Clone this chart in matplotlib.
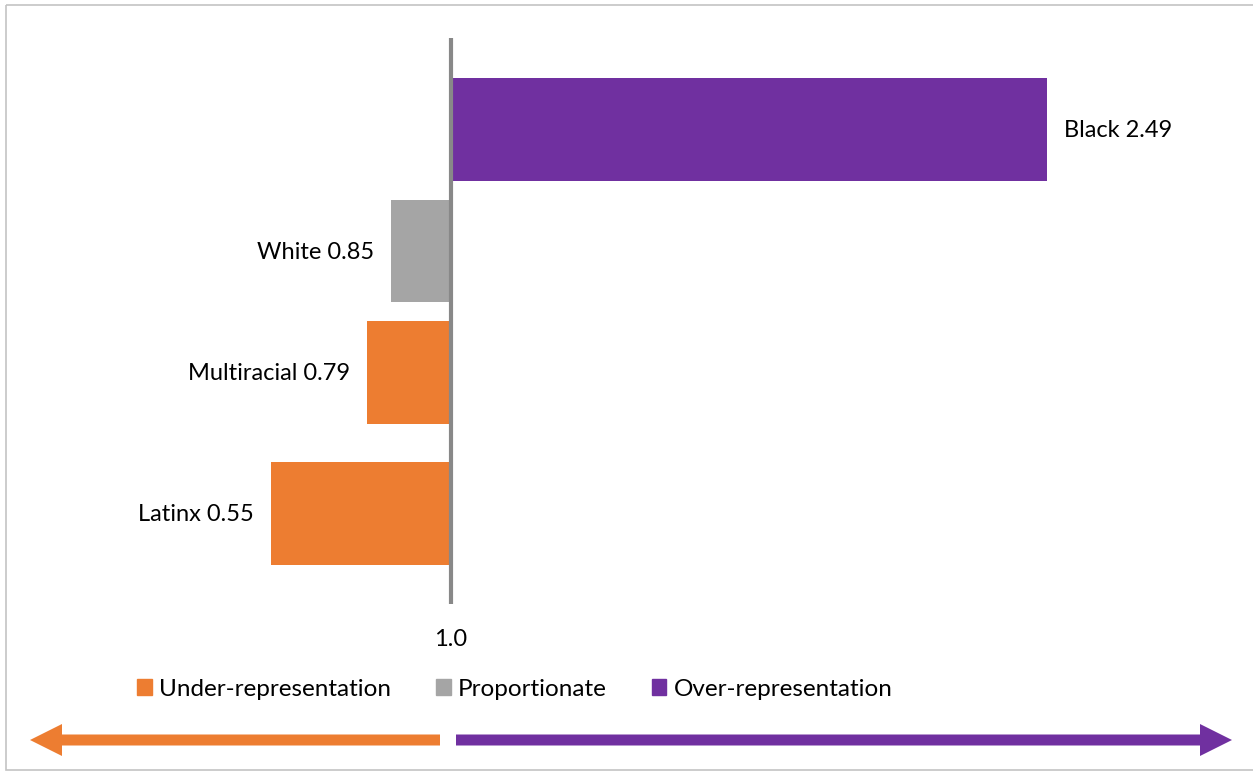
"""Representation index by race, bars diverging from 1.0."""

import matplotlib

matplotlib.use("Agg")

import matplotlib.pyplot as plt
from matplotlib.patches import FancyArrow, Patch, Rectangle

plt.rcParams["font.family"] = ["Lato", "DejaVu Sans"]

groups = ["Black", "White", "Multiracial", "Latinx"]
ratios = [2.49, 0.85, 0.79, 0.55]
kinds = ["over", "prop", "under", "under"]
baseline = 1.0

legend_labels = {"under": "Under-representation", "prop": "Proportionate",
                 "over": "Over-representation"}
colors = {"under": "#ED7D31", "prop": "#A5A5A5", "over": "#7030A0"}

# row layout (the last row sits a little lower in the original)
rows = [0, 1, 2, 3.16]

W, H = 1253, 772
fig = plt.figure(figsize=(W / 100, H / 100), dpi=100)

# decoration layer in pixel units: outer frame + direction arrows
deco = fig.add_axes([0, 0, 1, 1], zorder=0)
deco.set_xlim(0, W)
deco.set_ylim(H, 0)
deco.axis("off")
deco.add_patch(Rectangle((6, 5), 1260, 765, fill=False, ec="#C4C4C4", lw=1.2))
deco.add_patch(FancyArrow(440, 740, -410, 0, width=11, head_width=32, head_length=32,
                          length_includes_head=True, color=colors["under"], lw=0))
deco.add_patch(FancyArrow(456, 740, 776, 0, width=11, head_width=32, head_length=32,
                          length_includes_head=True, color=colors["over"], lw=0))

ax = fig.add_axes([0, (H - 604) / H, 1, (604 - 38) / H], zorder=1)
ax.patch.set_alpha(0)
ax.set_xlim(baseline - 451 / 400, baseline + (W - 451) / 400)
ax.set_ylim(3.905, -0.753)

fs = 17
for g, r, k, y in zip(groups, ratios, kinds, rows):
    ax.barh(y, r - baseline, left=baseline, height=0.84, color=colors[k], lw=0)
    if r >= baseline:
        ax.annotate(f"{g} {r:.2f}", (r, y), xytext=(12.5, -1), textcoords="offset points",
                    ha="left", va="center", fontsize=fs)
    else:
        ax.annotate(f"{g} {r:.2f}", (r, y), xytext=(-12.5, -1), textcoords="offset points",
                    ha="right", va="center", fontsize=fs)

ax.axvline(baseline, color="#888888", lw=3, zorder=3)

ax.set_xticks([baseline])
ax.set_xticklabels([f"{baseline:.1f}"], fontsize=fs)
ax.tick_params(axis="x", length=0, pad=18)
ax.set_yticks([])
for s in ax.spines.values():
    s.set_visible(False)

handles = [Patch(color=colors[k]) for k in ["under", "prop", "over"]]
fig.legend(handles, [legend_labels[k] for k in ["under", "prop", "over"]],
           loc="center", bbox_to_anchor=(515 / W, 1 - 689 / H), ncol=3, frameon=False,
           fontsize=17.5, handlelength=0.6, handleheight=0.6, handletextpad=0.3,
           columnspacing=1.85)

fig.savefig("out.png", dpi=100)
